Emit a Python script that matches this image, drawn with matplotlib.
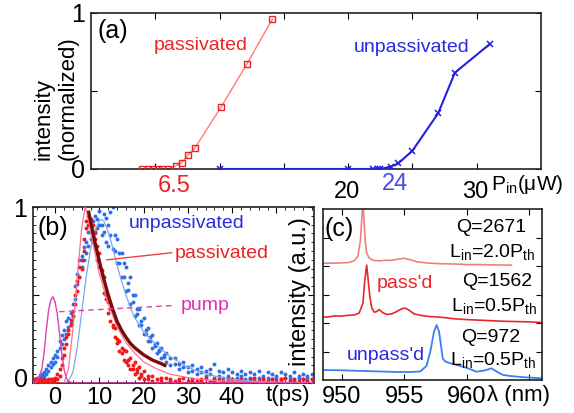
import numpy as np
import matplotlib
matplotlib.use('Agg')
import matplotlib.pyplot as plt
from matplotlib.ticker import MultipleLocator, NullFormatter

plt.rcParams['font.family'] = ['Liberation Sans', 'DejaVu Sans']
plt.rcParams['mathtext.fontset'] = 'custom'
plt.rcParams['mathtext.rm'] = 'Liberation Sans'
plt.rcParams['mathtext.it'] = 'Liberation Sans:italic'
plt.rcParams['mathtext.bf'] = 'Liberation Sans:bold'

# ---------------- data: panel (a) ----------------
pass_P = [4.0, 4.4, 4.8, 5.2, 5.55, 5.95, 6.6, 7.05, 7.55, 8.1, 10.1, 12.1, 14.1]
pass_I = [0.0, 0.0, 0.0, 0.0, 0.0, 0.0, 0.02, 0.04, 0.09, 0.137, 0.395, 0.67, 0.96]
unp_P = [10.0, 20.0, 21.9, 22.3, 22.5, 23.3, 23.9, 25.0, 27.0, 28.3, 31.0]
unp_I = [0.0, 0.0, 0.0, 0.0, 0.0, 0.015, 0.036, 0.117, 0.357, 0.617, 0.80]
a_xticks = [5, 10, 15, 20, 25, 30]
a_xlabels = ['20', '30']
a_thresholds = ['6.5', '24']

# ---------------- data: panel (b) ----------------
red_t = [-5, -4.5, -4, -3.5, -3, -2.5, -2, -1.5, -1, -0.5, 0,
         0.5, 1, 1.5, 2, 2.5, 3, 3.5, 4, 4.5, 5, 5.5, 6, 6.5, 7, 7.5, 8, 8.5, 9, 9.5,
         10, 10.5, 11, 11.5, 12, 12.5, 13, 13.5, 14, 14.5, 15, 15.5, 16, 16.5, 17, 17.5,
         18, 18.5, 19, 19.5, 20, 21, 22, 23, 24, 25, 26, 27, 28, 29, 30, 31, 32, 33, 34,
         35, 36, 37, 38, 39, 40, 41, 42, 43, 44, 45, 46, 47, 48, 49, 50, 51, 52, 53, 54,
         55, 56, 57, 58]
red_y1 = [0.01, 0.02, 0.01, 0.0, 0.01, 0.02, 0.01, 0.01, 0.02, 0.01, 0.03,
          0.05, 0.08, 0.10, 0.20, 0.22, 0.28, 0.33, 0.41, 0.45, 0.52, 0.60, 0.70, 0.75, 0.88, 0.95, 0.93, 0.90, 0.82, 0.78,
          0.74, 0.64, 0.60, 0.50, 0.46, 0.42, 0.33, 0.31, 0.25, 0.24, 0.20, 0.19, 0.18, 0.13, 0.14, 0.10,
          0.12, 0.08, 0.09, 0.05, 0.07, 0.04, 0.04, 0.02, 0.03, 0.03, 0.02, 0.01, 0.02, 0.03, 0.01, 0.02, 0.01, 0.02, 0.03,
          0.01, 0.02, 0.02, 0.01, 0.03, 0.02, 0.01, 0.02, 0.01, 0.02, 0.03, 0.01, 0.02, 0.01, 0.02, 0.01, 0.02, 0.03, 0.01, 0.02,
          0.01, 0.02, 0.01, 0.02]
red_y2 = [0.0, 0.0, 0.01, 0.02, 0.0, 0.01, 0.0, 0.02, 0.0, 0.02, 0.0,
          0.02, 0.04, 0.14, 0.16, 0.26, 0.30, 0.36, 0.38, 0.50, 0.58, 0.66, 0.65, 0.82, 0.92, 0.90, 0.86, 0.83, 0.86, 0.70,
          0.66, 0.62, 0.51, 0.48, 0.40, 0.35, 0.32, 0.26, 0.23, 0.18, 0.17, 0.13, 0.12, 0.10, 0.08, 0.08,
          0.05, 0.06, 0.03, 0.04, 0.02, 0.02, 0.01, 0.0, 0.01, 0.0, 0.01, 0.0, 0.01, 0.0, 0.0, 0.01, 0.0, 0.01, 0.0,
          0.0, 0.01, 0.0, 0.0, 0.01, 0.0, 0.0, 0.01, 0.0, 0.0, 0.01, 0.0, 0.0, 0.01, 0.0, 0.0, 0.01, 0.0, 0.0, 0.01,
          0.0, 0.0, 0.01, 0.0]
blue_t = [-4.5, -4, -3.5, -3, -2.5, -2, -1.5, -1, -0.5, 0, 0.5, 1, 1.5, 2, 2.5, 3, 3.5, 4, 4.5,
          5, 5.5, 6, 6.5, 7, 7.5, 8, 8.5, 9, 9.5, 10, 10.5, 11, 11.5, 12, 12.5, 13, 13.5, 14, 14.5,
          15, 15.5, 16, 16.5, 17, 17.5, 18, 18.5, 19, 19.5, 20, 20.5, 21, 21.5, 22, 22.5, 23, 23.5,
          24, 24.5, 25, 26, 27, 28, 29, 30, 31, 32, 33, 34, 35, 36, 37, 38, 39, 40, 41, 42, 43, 44,
          45, 46, 47, 48, 49, 50, 51, 52, 53, 54, 55, 56, 57, 58]
blue_y1 = [0.02, 0.03, 0.04, 0.05, 0.06, 0.08, 0.10, 0.12, 0.14, 0.16, 0.18, 0.20, 0.22, 0.30, 0.35, 0.37, 0.40, 0.45, 0.55,
           0.62, 0.70, 0.72, 0.77, 0.80, 0.86, 0.90, 0.92, 0.95, 0.93, 0.98, 0.90, 0.96, 0.94, 0.90, 0.97, 1.0, 0.84, 0.82, 0.74,
           0.74, 0.68, 0.66, 0.57, 0.60, 0.50, 0.50, 0.42, 0.42, 0.35, 0.37, 0.30, 0.31, 0.26, 0.27, 0.22, 0.23, 0.19,
           0.20, 0.16, 0.17, 0.14, 0.14, 0.11, 0.12, 0.09, 0.10, 0.08, 0.09, 0.07, 0.08, 0.11, 0.07, 0.06, 0.08, 0.06, 0.05, 0.07, 0.05, 0.06,
           0.05, 0.07, 0.04, 0.06, 0.05, 0.04, 0.06, 0.05, 0.04, 0.06, 0.04, 0.05, 0.04, 0.05]
blue_y2 = [0.0, 0.01, 0.02, 0.03, 0.04, 0.05, 0.07, 0.09, 0.11, 0.12, 0.15, 0.24, 0.27, 0.25, 0.28, 0.32, 0.34, 0.38, 0.48,
           0.56, 0.60, 0.66, 0.70, 0.74, 0.78, 0.82, 0.80, 0.85, 0.88, 0.90, 0.84, 0.86, 0.80, 0.78, 0.84, 0.76, 0.75, 0.68, 0.68,
           0.60, 0.60, 0.52, 0.53, 0.45, 0.46, 0.38, 0.39, 0.33, 0.33, 0.28, 0.28, 0.24, 0.24, 0.20, 0.21, 0.17, 0.18,
           0.14, 0.15, 0.12, 0.10, 0.11, 0.08, 0.09, 0.06, 0.07, 0.05, 0.06, 0.04, 0.05, 0.03, 0.04, 0.03, 0.04, 0.02, 0.03, 0.04, 0.02, 0.03,
           0.02, 0.03, 0.02, 0.03, 0.02, 0.03, 0.02, 0.03, 0.02, 0.02, 0.03, 0.02, 0.03, 0.02]
fit_t = [7.6, 8, 9, 10, 11, 12, 13, 14, 15, 16, 17, 18, 19, 20, 21, 22, 23, 24, 24.8]
fit_y = [0.97, 0.92, 0.80, 0.69, 0.59, 0.50, 0.42, 0.35, 0.30, 0.26, 0.225, 0.20, 0.18, 0.16, 0.145, 0.13, 0.12, 0.11, 0.10]
psim_t = [1, 2, 3, 4, 5, 6, 6.8, 7.2, 8, 9, 10, 12, 14, 16, 18, 20, 23, 26, 30, 35, 40, 50, 58]
psim_y = [0.0, 0.0, 0.08, 0.30, 0.60, 0.88, 1.0, 0.97, 0.86, 0.74, 0.62, 0.45, 0.32, 0.23, 0.17, 0.12, 0.08, 0.05, 0.03, 0.015, 0.01, 0.0, 0.0]
usim_t = [2, 3, 4, 5, 6, 7, 8, 9, 10, 10.5, 11, 12, 13, 14, 15, 16, 17, 18, 20, 22, 24, 26, 28, 30, 33, 36, 40, 45, 50, 58]
usim_y = [0.0, 0.01, 0.06, 0.20, 0.40, 0.60, 0.76, 0.87, 0.92, 0.93, 0.92, 0.86, 0.77, 0.67, 0.58, 0.50, 0.43, 0.37, 0.29, 0.24, 0.19, 0.15, 0.12, 0.09, 0.06, 0.04, 0.02, 0.01, 0.005, 0.0]
pump_t = [-5, -4, -3, -2.5, -2, -1.5, -1, -0.5, 0, 0.5, 1, 1.5, 2, 2.5, 3, 4, 58]
pump_y = [0.0, 0.01, 0.08, 0.17, 0.30, 0.41, 0.47, 0.49, 0.46, 0.39, 0.28, 0.17, 0.08, 0.03, 0.01, 0.0, 0.0]
b_xticks = [0, 10, 20, 30, 40]

# ---------------- data: panel (c) ----------------
top_wl = [948.5, 949.5, 950.5, 951.0, 951.3, 951.5, 951.6, 951.7, 951.8, 951.9, 952.0, 952.2, 952.5, 953.0,
          953.5, 954.0, 954.5, 955.0, 955.5, 956.0, 957.0, 958.0, 959.0, 960.0, 961.0, 962.0, 963.6]
top_I = [4.10, 4.10, 4.12, 4.18, 4.35, 4.9, 5.6, 6.3, 5.5, 4.8, 4.45, 4.28, 4.20, 4.18,
         4.20, 4.20, 4.24, 4.27, 4.22, 4.15, 4.10, 4.08, 4.07, 4.05, 4.05, 4.04, 4.03]
mid_wl = [948.5, 949.0, 949.5, 950.0, 950.5, 951.0, 951.4, 951.7, 951.85, 952.0, 952.1, 952.25, 952.4, 952.6,
          952.8, 953.0, 953.3, 953.6, 954.0, 954.4, 954.8, 955.1, 955.4, 955.8, 956.3, 957.0, 958.0, 959.0,
          960.0, 961.0, 962.0, 963.0, 964.0, 965.0, 966.0]
mid_I = [2.20, 2.22, 2.25, 2.24, 2.27, 2.28, 2.35, 2.70, 3.50, 4.03, 3.60, 2.95, 2.55, 2.38,
         2.40, 2.47, 2.36, 2.30, 2.32, 2.40, 2.50, 2.52, 2.45, 2.32, 2.27, 2.23, 2.20, 2.15,
         2.12, 2.10, 2.08, 2.06, 2.05, 2.04, 2.02]
bot_wl = [948.5, 950.0, 951.5, 953.0, 954.5, 955.5, 956.3, 956.8, 957.1, 957.4, 957.6, 957.8, 958.1, 958.3,
          958.6, 959.0, 959.7, 960.3, 960.8, 961.5, 962.0, 962.4, 962.9, 963.5, 964.5, 966.0]
bot_I = [0.35, 0.34, 0.32, 0.30, 0.28, 0.28, 0.30, 0.50, 1.00, 1.70, 1.93, 1.70, 0.75, 0.65,
         0.60, 0.55, 0.47, 0.38, 0.29, 0.34, 0.41, 0.30, 0.18, 0.14, 0.10, 0.06]
c_xticks = [950, 955, 960]

# ---------------- figure ----------------
W, H = 574, 413
fig = plt.figure(figsize=(W / 100, H / 100), dpi=100)


def rect(l, t, r, b):
    return [l / W, 1 - b / H, (r - l) / W, (b - t) / H]


def ftext(x, y, s, **kw):
    kw.setdefault('ha', 'center')
    kw.setdefault('va', 'center')
    fig.text(x / W, 1 - y / H, s, **kw)


def style(ax):
    ax.tick_params(direction='in', top=True, right=True, length=4, width=0.8,
                   labelbottom=False, labelleft=False)
    ax.tick_params(which='minor', direction='in', top=True, right=True, length=2, width=0.6)
    for s in ax.spines.values():
        s.set_linewidth(1.2)
        s.set_color('#222222')


RED = '#ee2222'
BLUE = '#2a2ae0'

# ---- panel (a)
axa = fig.add_axes(rect(91, 13, 541, 169))
axa.plot(pass_P, pass_I, '-', color='#ff7a7a', lw=1.0, zorder=2)
axa.plot(pass_P, pass_I, 's', mfc='none', mec=RED, ms=5, mew=1.0, zorder=3)
axa.plot(unp_P, unp_I, '-', color='#2222dd', lw=1.5, marker='x', ms=5, mew=1.1, zorder=3)
axa.set_xlim(0, 35)
axa.set_ylim(0, 1)
axa.set_xticks(a_xticks)
axa.set_yticks([0, 0.5, 1])
style(axa)
ftext(113, 31, '(a)', fontsize=18)
ftext(201, 46, 'passivated', fontsize=14, color=RED)
ftext(412, 48, 'unpassivated', fontsize=14, color=BLUE)
ftext(78, 15, '1', fontsize=18)
ftext(78, 171, '0', fontsize=18)
ftext(44, 160, 'intensity', fontsize=16, rotation=90, va='bottom')
ftext(68, 160, '(normalized)', fontsize=16, rotation=90, va='bottom')
ftext(347, 192, a_xlabels[0], fontsize=17)
ftext(475, 192, a_xlabels[1], fontsize=17)
ftext(174, 186, a_thresholds[0], fontsize=17, color=RED)
ftext(395, 184, a_thresholds[1], fontsize=17, color='#4a4af0')
ftext(491, 184, r'P$_{\rm in}$(μW)', fontsize=15, ha='left')

# ---- panel (b)
axb = fig.add_axes(rect(33, 207, 314, 383))
axb.scatter(blue_t, blue_y1, s=8, color='#2f6fe8', lw=0, zorder=2)
axb.scatter(blue_t, blue_y2, s=8, color='#2f6fe8', lw=0, zorder=2)
axb.scatter(red_t, red_y1, s=8, color='#f01818', lw=0, zorder=3)
axb.scatter(red_t, red_y2, s=8, color='#f01818', lw=0, zorder=3)
axb.plot(usim_t, usim_y, color='#7fa8f0', lw=0.9, zorder=4)
axb.plot(psim_t, psim_y, color='#ff7090', lw=0.9, zorder=4)
axb.plot(pump_t, pump_y, color='#e040b0', lw=1.0, zorder=4)
axb.plot(fit_t, fit_y, color='#7a0a0a', lw=2.4, zorder=5)
axb.plot([11.7, 26.3], [0.70, 0.74], color='#f04040', lw=1.0, zorder=6)
axb.plot([0.9, 26.5], [0.405, 0.44], color='#e040b0', lw=1.0, ls=(0, (4, 3)), zorder=6)
axb.set_xlim(-5, 58.5)
axb.set_ylim(0, 1)
axb.set_xticks(b_xticks + [50])
axb.set_yticks([0, 0.5, 1])
axb.xaxis.set_minor_locator(MultipleLocator(2))
axb.yaxis.set_minor_locator(MultipleLocator(0.05))
style(axb)
for t in b_xticks:
    px = 55 + 4.425 * t
    ftext(px, 398, str(t), fontsize=17)
ftext(288, 396, 't(ps)', fontsize=16)
ftext(20, 210, '1', fontsize=18)
ftext(21, 380, '0', fontsize=18)
ftext(53, 228, '(b)', fontsize=18)
ftext(187, 223, 'unpassivated', fontsize=14, color=BLUE)
ftext(222, 253, 'passivated', fontsize=14, color=RED)
ftext(205, 305, 'pump', fontsize=14, color='#e030b0')
ftext(300, 292, 'intensity (a.u.)', fontsize=17, rotation=90)

# ---- panel (c)
axc = fig.add_axes(rect(323, 209, 542, 380))
axc.plot(top_wl, top_I, color='#f08080', lw=1.2)
axc.plot(mid_wl, mid_I, color='#e82828', lw=1.2)
axc.plot(bot_wl, bot_I, color='#3a80f0', lw=1.3)
axc.set_xlim(948.5, 966.05)
axc.set_ylim(0, 6)
axc.set_xticks(c_xticks + [965])
axc.set_yticks([1, 2, 3, 4, 5])
style(axc)
for wl in c_xticks:
    px = 342 + 12.45 * (wl - 950)
    ftext(px, 397, str(wl), fontsize=17)
ftext(487, 396, 'λ (nm)', fontsize=16, ha='left')
ftext(339, 229, '(c)', fontsize=18)
ftext(491, 228, 'Q=2671', fontsize=14)
ftext(492, 252, r'L$_{\rm in}$=2.0P$_{\rm th}$', fontsize=14)
ftext(405, 283, "pass'd", fontsize=14, color=RED)
ftext(497, 282, 'Q=1562', fontsize=14)
ftext(494, 306, r'L$_{\rm in}$=0.5P$_{\rm th}$', fontsize=14)
ftext(491, 337, 'Q=972', fontsize=14)
ftext(493, 360, r'L$_{\rm in}$=0.5P$_{\rm th}$', fontsize=14)
ftext(386, 356, "unpass'd", fontsize=14, color=BLUE)

fig.savefig('out.png', dpi=100)
